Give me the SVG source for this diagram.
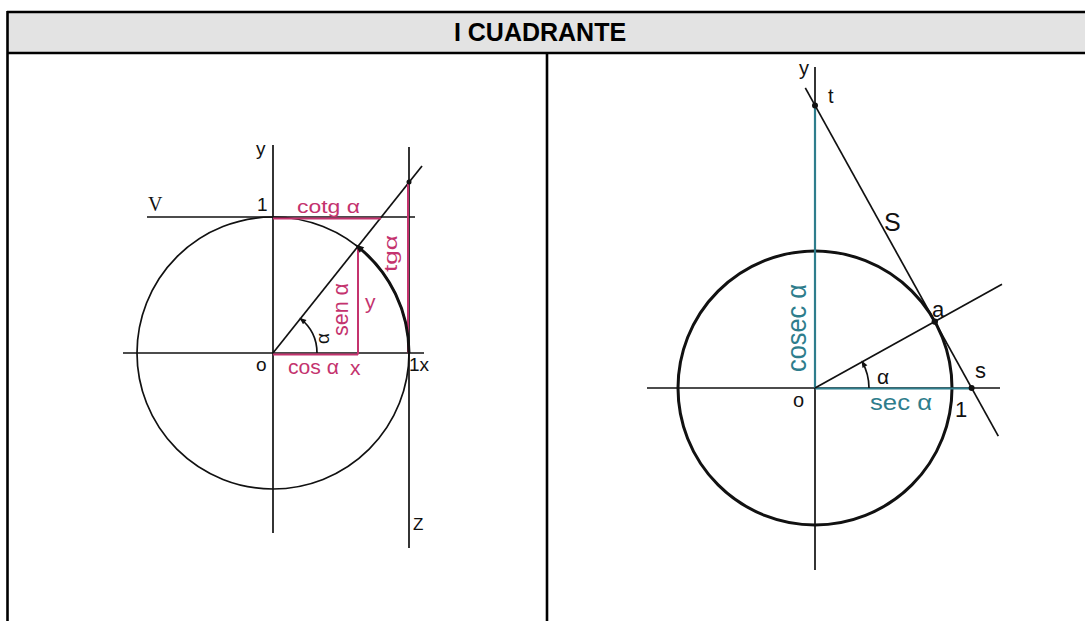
<svg xmlns="http://www.w3.org/2000/svg" width="1085" height="621" viewBox="0 0 1085 621">
<style>
.tb{stroke:#000;stroke-width:2.6;fill:none}
.ln{stroke:#111;stroke-width:1.7;fill:none}
.thk{stroke:#111;stroke-width:3;fill:none}
.mg{stroke:#c4336e;stroke-width:2;fill:none}
.tl{stroke:#2e7d8c;stroke-width:2.2;fill:none}
.lb{font-family:"Liberation Sans",Arial,sans-serif;fill:#111}
.lm{font-family:"Liberation Sans",Arial,sans-serif;fill:#c4336e}
.lt{font-family:"Liberation Sans",Arial,sans-serif;fill:#2e7d8c}
</style>
<defs>
<marker id="ah" viewBox="0 0 10 10" refX="8" refY="5" markerWidth="8" markerHeight="7" markerUnits="userSpaceOnUse" orient="auto">
<path d="M0,1 L10,5 L0,9 Z" fill="#111"/>
</marker>
<marker id="ah2" viewBox="0 0 10 10" refX="6" refY="5" markerWidth="11" markerHeight="9" markerUnits="userSpaceOnUse" orient="auto">
<path d="M0,1 L10,5 L0,9 Z" fill="#111"/>
</marker>
</defs>
<rect width="1085" height="621" fill="#fff"/>
<g id="table">
<rect x="7" y="12" width="1080" height="41" fill="#e3e3e3"/>
<line class="tb" x1="7" y1="12" x2="1085" y2="12"/>
<line class="tb" x1="7" y1="53" x2="1085" y2="53"/>
<line class="tb" x1="7.5" y1="11" x2="7.5" y2="621"/>
<line class="tb" x1="547" y1="53" x2="547" y2="621"/>
<text x="540" y="41" text-anchor="middle" font-family="Liberation Sans,Arial,sans-serif" font-weight="bold" font-size="25" fill="#000">I CUADRANTE</text>
</g>
<g id="left-figure">
<circle class="ln" cx="273" cy="353" r="136"/>
<line class="ln" x1="273" y1="145" x2="273" y2="533"/>
<line class="ln" x1="123" y1="353" x2="424" y2="353"/>
<line class="ln" x1="147" y1="217" x2="415" y2="217"/>
<line class="ln" x1="409" y1="147" x2="409" y2="548"/>
<line class="ln" x1="273" y1="353" x2="422" y2="166"/>
<line class="mg" x1="273" y1="354.5" x2="358" y2="354.5"/>
<line class="mg" x1="358" y1="354.5" x2="358" y2="247"/>
<line class="mg" x1="273" y1="218.5" x2="381" y2="218.5"/>
<line class="mg" x1="408" y1="182" x2="408" y2="353"/>
<path class="thk" d="M409,353 A136,136 0 0 0 357.7,246.6" marker-end="url(#ah2)"/>
<path class="ln" d="M317,353 A44,44 0 0 0 300.4,318.6" marker-end="url(#ah)"/>
<circle cx="409" cy="182" r="2.5" fill="#111"/>
<text class="lb" x="256" y="155" font-size="19">y</text>
<text class="lb" x="257" y="211" font-size="19">1</text>
<text x="148" y="211" font-size="20" font-family="Liberation Serif,serif" fill="#111">V</text>
<text class="lb" x="256" y="371" font-size="19">o</text>
<text class="lb" x="409" y="371" font-size="19">1x</text>
<text class="lb" x="413" y="530" font-size="17">Z</text>
<text class="lm" x="297" y="213" font-size="19" textLength="63" lengthAdjust="spacingAndGlyphs">cotg α</text>
<text class="lm" x="288" y="374" font-size="21" textLength="51" lengthAdjust="spacingAndGlyphs">cos α</text>
<text class="lm" x="350" y="375" font-size="21">x</text>
<text class="lm" x="365" y="309" font-size="21">y</text>
<text class="lm" transform="translate(348,336) rotate(-90)" font-size="22" textLength="53" lengthAdjust="spacingAndGlyphs">sen α</text>
<text class="lm" transform="translate(397,272) rotate(-90)" font-size="19" textLength="37" lengthAdjust="spacingAndGlyphs">tgα</text>
<text class="lb" transform="translate(329,344) rotate(-90)" font-size="19">α</text>
</g>
<g id="right-figure">
<circle class="thk" cx="815" cy="388" r="137"/>
<line class="ln" x1="815" y1="67" x2="815" y2="570"/>
<line class="ln" x1="647" y1="388" x2="1000" y2="388"/>
<line class="tl" x1="815" y1="105.4" x2="815" y2="388"/>
<line class="tl" x1="815" y1="388.5" x2="971.6" y2="388.5"/>
<line class="ln" x1="815" y1="388" x2="1002" y2="284.3"/>
<line class="ln" x1="805.3" y1="87.9" x2="998.3" y2="436.1"/>
<path class="ln" d="M869,388 A54,54 0 0 0 862.2,361.8" marker-end="url(#ah)"/>
<circle cx="815" cy="105.4" r="3" fill="#111"/>
<circle cx="934.8" cy="321.6" r="3.2" fill="#111"/>
<circle cx="971.6" cy="388" r="3" fill="#111"/>
<text class="lb" x="799" y="75" font-size="20">y</text>
<text class="lb" x="828" y="103" font-size="20">t</text>
<text class="lb" x="884" y="231" font-size="25">S</text>
<text class="lb" x="932" y="317" font-size="22">a</text>
<text class="lb" x="975" y="378" font-size="22">s</text>
<text class="lb" x="793" y="407" font-size="20">o</text>
<text class="lb" x="955" y="417" font-size="22">1</text>
<text class="lb" x="877" y="384" font-size="21">α</text>
<text class="lt" x="870" y="410" font-size="22" textLength="62" lengthAdjust="spacingAndGlyphs">sec α</text>
<text class="lt" transform="translate(806,372) rotate(-90)" font-size="27" textLength="88" lengthAdjust="spacingAndGlyphs">cosec α</text>
</g>
</svg>
